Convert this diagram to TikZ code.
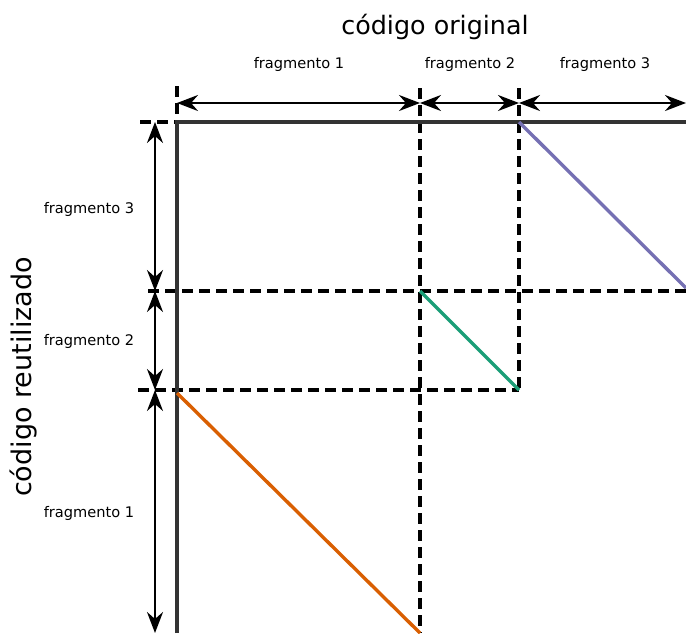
\documentclass[tikz,border=0pt]{standalone}
\usepackage{fontspec}
\setmainfont{DejaVu Sans}
\usetikzlibrary{arrows.meta}
\definecolor{segorange}{HTML}{D95F02}
\definecolor{seggreen}{HTML}{1B9E77}
\definecolor{segpurple}{HTML}{7570B3}
\definecolor{axisgray}{HTML}{333333}
\begin{document}
\begin{tikzpicture}[x=1pt,y=-1pt,
  axis/.style={axisgray, line width=3.6pt},
  bound/.style={black, line width=3.6pt, dash pattern=on 11pt off 6pt},
  span/.style={black, line width=2.4pt,
    {Stealth[length=21pt,width=16pt,inset=7pt]}-{Stealth[length=21pt,width=16pt,inset=7pt]}},
  match/.style={line width=3.4pt},
  lbl/.style={font=\fontsize{14.6}{17}\selectfont, anchor=base, inner sep=0pt},
  title/.style={font=\fontsize{25.4}{30}\selectfont, anchor=base, inner sep=0pt},
  vtitle/.style={font=\fontsize{27}{32}\selectfont, anchor=base, inner sep=0pt, rotate=90}]
\useasboundingbox (0,0) rectangle (686,633);

% dashed boundaries between fragments
\draw[bound] (177,86) -- (177,122);
\draw[bound] (420,88) -- (420,633);
\draw[bound] (519,88) -- (519,390);
\draw[bound] (140,122) -- (177,122);
\draw[bound] (148,291) -- (686,291);
\draw[bound] (138,390) -- (519,390);

% axes
\draw[axis] (177,633) -- (177,122) -- (686,122);

% matching segments
\coordinate (o1) at (177,393);
\coordinate (o2) at (420,633);
\coordinate (g1) at (420,291);
\coordinate (g2) at (519,390);
\coordinate (p1) at (519,122);
\coordinate (p2) at (686,288);
\draw[match, segorange] (o1) -- (o2);
\draw[match, seggreen] (g1) -- (g2);
\draw[match, segpurple] (p1) -- (p2);

% horizontal spans
\coordinate (h0) at (177,103);
\coordinate (h1) at (420,103);
\coordinate (h2) at (519,103);
\coordinate (h3) at (686,103);
\draw[span] (h0) -- (h1);
\draw[span] (h1) -- (h2);
\draw[span] (h2) -- (h3);

% vertical spans
\coordinate (v0) at (155,122);
\coordinate (v1) at (155,291);
\coordinate (v2) at (155,390);
\coordinate (v3) at (155,633);
\draw[span] (v0) -- (v1);
\draw[span] (v1) -- (v2);
\draw[span] (v2) -- (v3);

% labels
\node[title] (torig) at (435,34) {código original};
\node[vtitle] (treuse) at (31,377) {código reutilizado};
\node[lbl] (tc1) at (299,68) {fragmento 1};
\node[lbl] (tc2) at (470,68) {fragmento 2};
\node[lbl] (tc3) at (605,68) {fragmento 3};
\node[lbl] (tr3) at (89,213) {fragmento 3};
\node[lbl] (tr2) at (89,345) {fragmento 2};
\node[lbl] (tr1) at (89,517) {fragmento 1};
\end{tikzpicture}
\end{document}
